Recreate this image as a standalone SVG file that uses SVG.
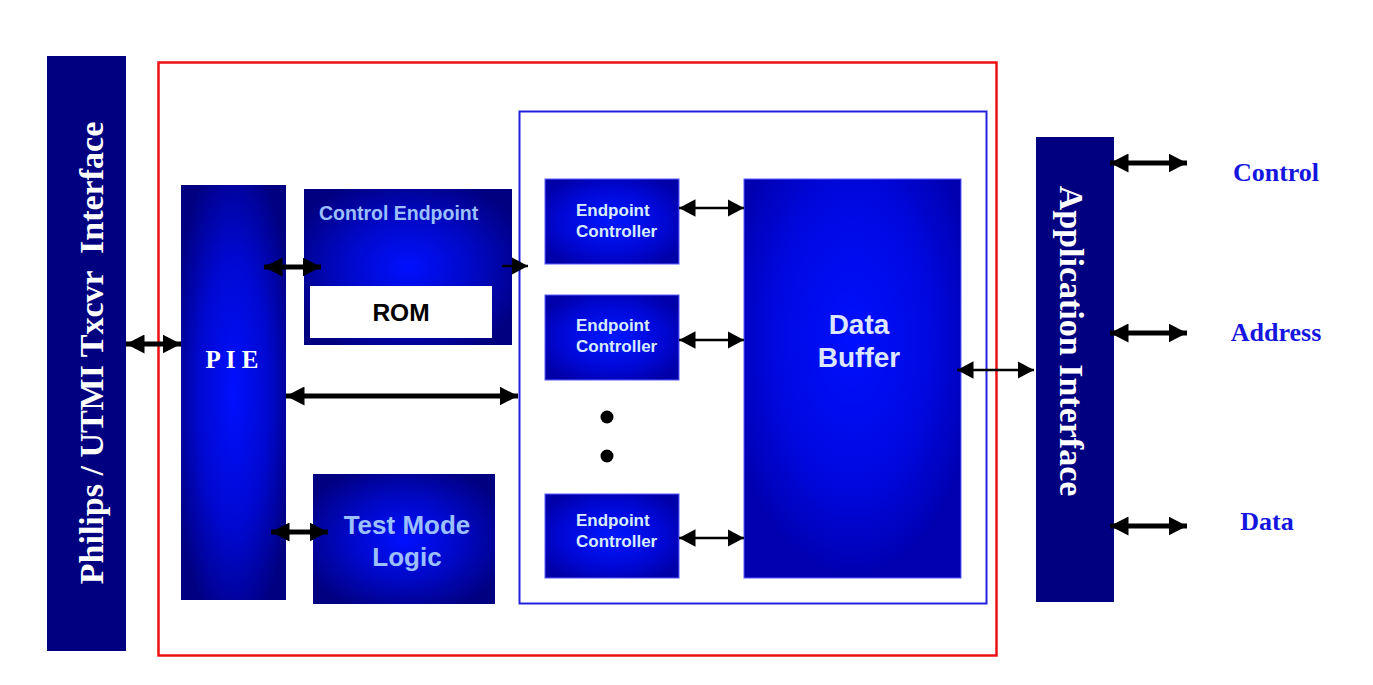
<svg xmlns="http://www.w3.org/2000/svg" width="1373" height="685" viewBox="0 0 1373 685">
<defs>
<style>
.navy{fill:#000080}
.serifw{font-family:"Liberation Serif",serif;font-weight:bold;fill:#ffffff}
.sans{font-family:"Liberation Sans",Arial,sans-serif;font-weight:bold}
.lab{font-family:"Liberation Serif",serif;font-weight:bold;fill:#1515e0;font-size:26px}
.thick{stroke:#000;stroke-width:5;fill:none}
.thin{stroke:#000;stroke-width:2.5;fill:none}
</style>
<radialGradient id="gPie" cx="0.5" cy="0.5" r="0.6">
<stop offset="0" stop-color="#0010ff"/>
<stop offset="0.55" stop-color="#0008d0"/>
<stop offset="1" stop-color="#000080"/>
</radialGradient>
<radialGradient id="gBox" cx="0.5" cy="0.5" r="0.6">
<stop offset="0" stop-color="#0010ff"/>
<stop offset="0.5" stop-color="#0008c8"/>
<stop offset="1" stop-color="#000080"/>
</radialGradient>
<radialGradient id="gEc" cx="0.5" cy="0.5" r="0.6">
<stop offset="0" stop-color="#0018ff"/>
<stop offset="0.6" stop-color="#0008d8"/>
<stop offset="1" stop-color="#0000a8"/>
</radialGradient>
<radialGradient id="gDb" cx="0.5" cy="0.4" r="0.6">
<stop offset="0" stop-color="#0010ff"/>
<stop offset="0.6" stop-color="#0008e0"/>
<stop offset="1" stop-color="#0000b0"/>
</radialGradient>
<marker id="hT" viewBox="0 0 10 10" refX="10" refY="5" markerWidth="3.7" markerHeight="3.8" orient="auto-start-reverse" markerUnits="strokeWidth" preserveAspectRatio="none">
<path d="M0,0 L10,5 L0,10 z" fill="#000"/>
</marker>
<marker id="hN" viewBox="0 0 10 10" refX="10" refY="5" markerWidth="6.6" markerHeight="7" orient="auto-start-reverse" markerUnits="strokeWidth" preserveAspectRatio="none">
<path d="M0,0 L10,5 L0,10 z" fill="#000"/>
</marker>
</defs>
<rect width="1373" height="685" fill="#ffffff"/>

<g id="utmi">
<rect x="47" y="56" width="79" height="595" class="navy"/>
<text class="serifw" font-size="34" transform="translate(103,353) rotate(-90)" text-anchor="middle" xml:space="preserve">Philips / UTMI Txcvr  Interface</text>
</g>

<g id="core-boundary">
<rect x="158.5" y="62.5" width="838" height="593" fill="none" stroke="#ee1111" stroke-width="2.5"/>
</g>

<g id="endpoint-area">
<rect x="519.5" y="111.5" width="467" height="492" fill="none" stroke="#2222dd" stroke-width="2"/>
</g>

<g id="pie">
<rect x="181" y="185" width="105" height="415" fill="url(#gPie)"/>
<text class="serifw" font-size="25" x="232" y="368" text-anchor="middle" xml:space="preserve">P I E</text>
</g>

<g id="control-endpoint">
<rect x="304" y="189" width="208" height="156" fill="url(#gBox)"/>
<text class="sans" font-size="19.5" x="319" y="220" fill="#9cc0ff">Control Endpoint</text>
<rect x="310" y="286" width="182" height="52" fill="#ffffff"/>
<text class="sans" font-size="24.5" x="401" y="321" text-anchor="middle" fill="#000">ROM</text>
</g>

<g id="test-mode">
<rect x="313" y="474" width="182" height="130" fill="url(#gBox)"/>
<text class="sans" font-size="26" x="407" y="534" text-anchor="middle" fill="#9cc0ff">Test Mode</text>
<text class="sans" font-size="26" x="407" y="566" text-anchor="middle" fill="#9cc0ff">Logic</text>
</g>

<g id="ec1">
<rect x="545" y="179" width="134" height="85" fill="url(#gEc)" stroke="#5a5aff" stroke-width="1"/>
<text class="sans" font-size="17" x="576" y="216" fill="#d8ecff">Endpoint</text>
<text class="sans" font-size="17" x="576" y="237" fill="#d8ecff">Controller</text>
</g>
<g id="ec2">
<rect x="545" y="295" width="134" height="85" fill="url(#gEc)" stroke="#5a5aff" stroke-width="1"/>
<text class="sans" font-size="17" x="576" y="331" fill="#d8ecff">Endpoint</text>
<text class="sans" font-size="17" x="576" y="352" fill="#d8ecff">Controller</text>
</g>
<g id="ellipsis">
<circle cx="607" cy="417" r="6.5" fill="#000"/>
<circle cx="607" cy="456" r="6.5" fill="#000"/>
</g>
<g id="ec3">
<rect x="545" y="494" width="134" height="84" fill="url(#gEc)" stroke="#5a5aff" stroke-width="1"/>
<text class="sans" font-size="17" x="576" y="526" fill="#d8ecff">Endpoint</text>
<text class="sans" font-size="17" x="576" y="547" fill="#d8ecff">Controller</text>
</g>

<g id="data-buffer">
<rect x="744" y="179" width="217" height="399" fill="url(#gDb)" stroke="#5a5aff" stroke-width="1"/>
<text class="sans" font-size="28" x="859" y="334" text-anchor="middle" fill="#dde6ff">Data</text>
<text class="sans" font-size="28" x="859" y="367" text-anchor="middle" fill="#dde6ff">Buffer</text>
</g>

<g id="app-interface">
<rect x="1036" y="137" width="78" height="465" class="navy"/>
<text class="serifw" font-size="34" transform="translate(1060,341) rotate(90)" text-anchor="middle">Application Interface</text>
</g>

<g id="labels">
<text class="lab" x="1276" y="181" text-anchor="middle">Control</text>
<text class="lab" x="1276" y="341" text-anchor="middle">Address</text>
<text class="lab" x="1267" y="530" text-anchor="middle">Data</text>
</g>

<g id="connectors">
<line x1="126" y1="344" x2="181" y2="344" class="thick" marker-start="url(#hT)" marker-end="url(#hT)"/>
<line x1="264" y1="267" x2="321" y2="267" class="thick" marker-start="url(#hT)" marker-end="url(#hT)"/>
<line x1="502" y1="266" x2="528" y2="266" class="thin" marker-end="url(#hN)"/>
<line x1="286" y1="396" x2="518" y2="396" class="thick" marker-start="url(#hT)" marker-end="url(#hT)"/>
<line x1="271" y1="532" x2="328" y2="532" class="thick" marker-start="url(#hT)" marker-end="url(#hT)"/>
<line x1="679" y1="208" x2="744" y2="208" class="thin" marker-start="url(#hN)" marker-end="url(#hN)"/>
<line x1="679" y1="340" x2="744" y2="340" class="thin" marker-start="url(#hN)" marker-end="url(#hN)"/>
<line x1="679" y1="538" x2="744" y2="538" class="thin" marker-start="url(#hN)" marker-end="url(#hN)"/>
<line x1="957" y1="370" x2="1034" y2="370" class="thin" marker-start="url(#hN)" marker-end="url(#hN)"/>
<line x1="1110" y1="163" x2="1187" y2="163" class="thick" marker-start="url(#hT)" marker-end="url(#hT)"/>
<line x1="1110" y1="333" x2="1187" y2="333" class="thick" marker-start="url(#hT)" marker-end="url(#hT)"/>
<line x1="1110" y1="526" x2="1187" y2="526" class="thick" marker-start="url(#hT)" marker-end="url(#hT)"/>
</g>
</svg>
